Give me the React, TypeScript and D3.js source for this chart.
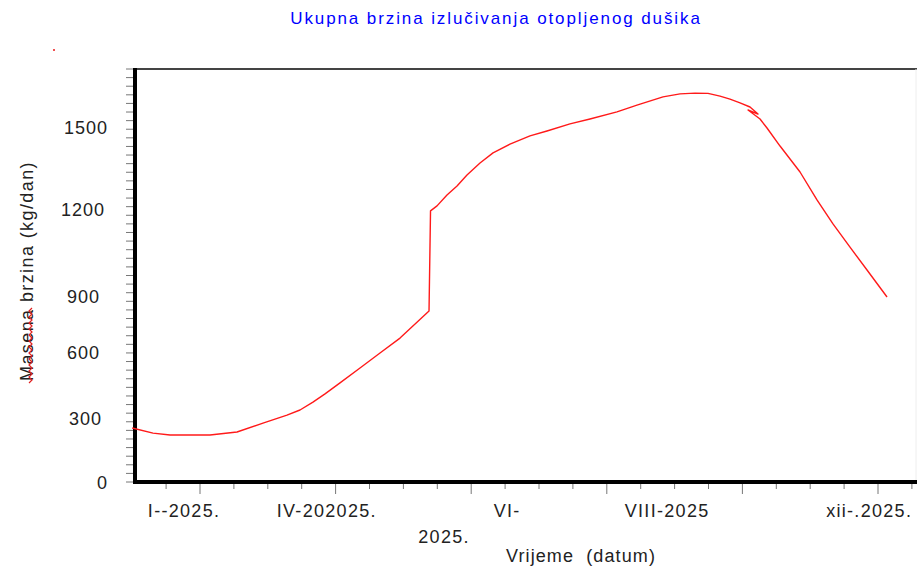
import React, { useEffect, useRef } from "react";
import * as d3 from "d3";

// time in months since 1 Jan 2025, rate in kg/dan
const months = [
  0, 0.307, 0.558, 0.853, 1.147, 1.546, 1.929, 2.283, 2.475, 2.666, 2.844, 3.065,
  3.36, 3.655, 3.95, 4.378, 4.4, 4.496, 4.643, 4.791, 4.938, 5.13, 5.322, 5.572,
  5.867, 6.118, 6.457, 6.752, 7.15, 7.445, 7.829, 8.08, 8.301, 8.493, 8.67,
  8.817, 8.965, 9.112, 9.23, 9.083, 9.26, 9.363, 9.555, 9.85, 10.1, 10.336,
  10.587, 10.838, 11.133,
];
const rates = [
  258, 234, 225, 225, 225, 239, 281, 318, 341, 377, 414, 464, 532, 600, 680,
  825, 1197, 1215, 1255, 1288, 1328, 1372, 1409, 1441, 1471, 1489, 1515, 1533,
  1559, 1584, 1614, 1625, 1628, 1627, 1617, 1606, 1592, 1577, 1551, 1566, 1533,
  1500, 1434, 1339, 1237, 1152, 1072, 993, 900,
];

const yTickValues = [0, 300, 600, 900, 1200, 1500];
const yTickLabels = ["0", "300", "600", "900", "1200", "1500"];
const yLabelShift = [0, -6, -8, -8, -3, 0];

const xTickLabels = ["I--2025.", "IV-202025.", "VI-", "2025.", "VIII-2025", "xii-.2025."];
const xTickAt = [0.765, 2.87, 5.53, 4.6, 7.89, 10.87];
const xTickRow = [0, 0, 0, 1, 0, 0];

const title = "Ukupna brzina izlučivanja otopljenog dušika";
const xTitle = "Vrijeme  (datum)";
const yTitle = "Masena brzina (kg/dan)";

export default function App() {
  const ref = useRef<SVGSVGElement>(null);

  useEffect(() => {
    const width = 917,
      height = 568,
      left = 135,
      bottom = 482,
      top = 69;
    const font = "'Liberation Sans', Arial, sans-serif";

    const svg = d3.select(ref.current);
    svg.selectAll("*").remove();

    const x = d3.scaleLinear().domain([0, 12]).range([132.2, 945.8]);
    // the value axis is not evenly spaced in the original
    const y = d3
      .scaleLinear()
      .domain([0, 300, 600, 900, 1200, 1500, 1720])
      .range([483, 419, 353, 297, 210, 128, 68]);

    svg.append("rect").attr("width", width).attr("height", height).attr("fill", "#fff");

    // title
    svg
      .append("text")
      .attr("x", 496)
      .attr("y", 24)
      .attr("text-anchor", "middle")
      .attr("fill", "#0000ff")
      .style("font", `17px ${font}`)
      .style("letter-spacing", "1.9px")
      .text(title);

    svg.append("rect").attr("x", 53).attr("y", 49).attr("width", 2).attr("height", 2).attr("fill", "#f05050");

    // frame
    svg
      .append("line")
      .attr("x1", left)
      .attr("x2", width)
      .attr("y1", top)
      .attr("y2", top)
      .attr("stroke", "#444")
      .attr("stroke-width", 2);
    svg
      .append("line")
      .attr("x1", width - 1)
      .attr("x2", width - 1)
      .attr("y1", top)
      .attr("y2", bottom)
      .attr("stroke", "#eee");

    // minor y ticks, evenly spaced
    const yt = d3.scaleLinear().domain([0, 48]).range([bottom, top]);
    svg
      .append("g")
      .selectAll("line")
      .data(d3.range(0, 49))
      .join("line")
      .attr("x1", left - 9)
      .attr("x2", left)
      .attr("y1", (d) => yt(d))
      .attr("y2", (d) => yt(d))
      .attr("stroke", "#777");

    // x ticks
    svg
      .append("g")
      .selectAll("line")
      .data(d3.range(0.5, 12.01, 0.5))
      .join("line")
      .attr("x1", (d) => x(d))
      .attr("x2", (d) => x(d))
      .attr("y1", bottom)
      .attr("y2", (d) => (d % 2 === 1 ? bottom + 12 : bottom + 7))
      .attr("stroke", "#777");

    // axes lines
    svg
      .append("line")
      .attr("x1", left)
      .attr("x2", left)
      .attr("y1", top - 1)
      .attr("y2", bottom + 2)
      .attr("stroke", "#000")
      .attr("stroke-width", 4);
    svg
      .append("line")
      .attr("x1", left - 2)
      .attr("x2", width)
      .attr("y1", bottom)
      .attr("y2", bottom)
      .attr("stroke", "#000")
      .attr("stroke-width", 4);

    // y labels
    svg
      .append("g")
      .selectAll("text")
      .data(yTickValues)
      .join("text")
      .attr("x", (d, i) => 108 + yLabelShift[i])
      .attr("y", (d) => y(d))
      .attr("dy", "0.36em")
      .attr("text-anchor", "end")
      .attr("fill", "#222")
      .style("font", `18px ${font}`)
      .style("letter-spacing", "1px")
      .text((d, i) => yTickLabels[i]);

    // x labels
    svg
      .append("g")
      .selectAll("text")
      .data(xTickLabels)
      .join("text")
      .attr("x", (d, i) => x(xTickAt[i]))
      .attr("y", (d, i) => 517 + xTickRow[i] * 26)
      .attr("text-anchor", "middle")
      .attr("fill", "#222")
      .style("font", `18px ${font}`)
      .style("letter-spacing", "1.3px")
      .text((d) => d);

    // axis titles
    svg
      .append("text")
      .attr("x", 581)
      .attr("y", 562)
      .attr("text-anchor", "middle")
      .attr("fill", "#222")
      .style("font", `18px ${font}`)
      .style("letter-spacing", "1.1px")
      .style("white-space", "pre")
      .text(xTitle);

    svg
      .append("text")
      .attr("transform", "translate(33,271) rotate(-90)")
      .attr("text-anchor", "middle")
      .attr("fill", "#222")
      .style("font", `18px ${font}`)
      .style("letter-spacing", "1.4px")
      .text(yTitle);

    // red squiggle under "Masena"
    const sq = d3.range(0, 26).map((i) => [29 + (i % 2) * 3, 383 - i * 3]);
    svg
      .append("path")
      .attr("d", d3.line()(sq as [number, number][]))
      .attr("fill", "none")
      .attr("stroke", "#e02020")
      .attr("stroke-width", 1.2);

    // data line
    const line = d3
      .line<number>()
      .x((d, i) => x(months[i]))
      .y((d) => y(d));
    svg
      .append("path")
      .datum(rates)
      .attr("fill", "none")
      .attr("stroke", "#ff1a1a")
      .attr("stroke-width", 1.4)
      .attr("stroke-linejoin", "round")
      .attr("d", line);
  }, []);

  return (
    <svg
      ref={ref}
      width={917}
      height={568}
      style={{ position: "absolute", left: 0, top: 0 }}
    />
  );
}
